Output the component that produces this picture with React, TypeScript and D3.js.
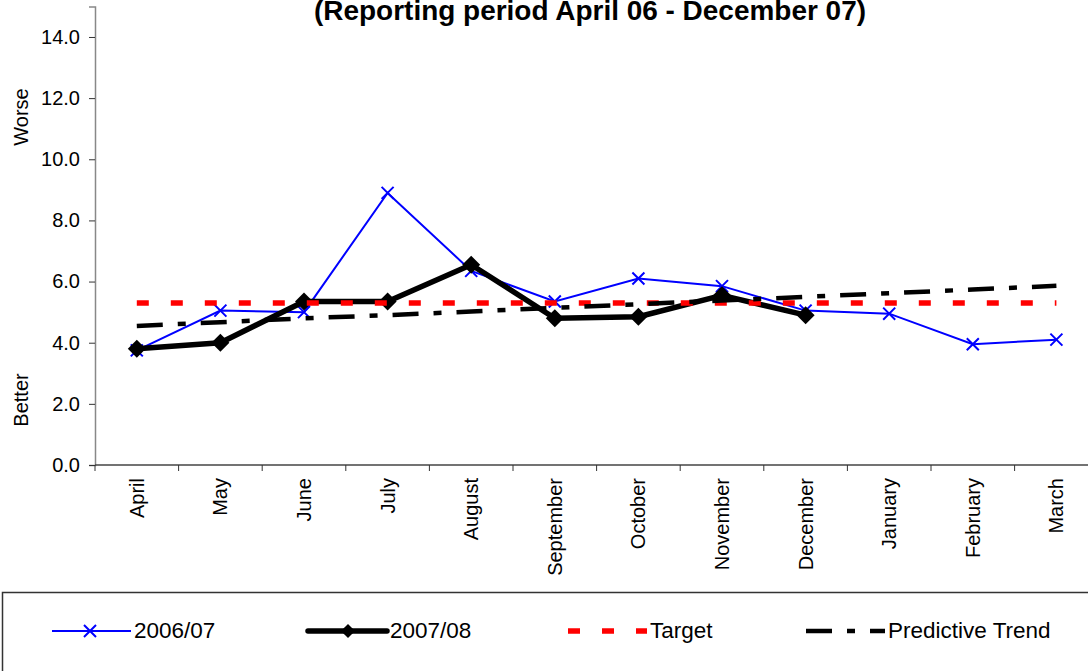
import { useEffect, useRef } from 'react';
import * as d3 from 'd3';

const MONTHS = ['April', 'May', 'June', 'July', 'August', 'September', 'October', 'November', 'December', 'January', 'February', 'March'];
const SERIES_2006_07 = [3.75, 5.05, 5.0, 8.9, 6.35, 5.35, 6.1, 5.85, 5.05, 4.95, 3.95, 4.1];
const SERIES_2007_08 = [3.8, 4.0, 5.35, 5.35, 6.55, 4.8, 4.85, 5.55, 4.9];
const TARGET = [5.3, 5.3, 5.3, 5.3, 5.3, 5.3, 5.3, 5.3, 5.3, 5.3, 5.3, 5.3];
const TREND = [4.55, 4.67, 4.8, 4.9, 5.02, 5.14, 5.26, 5.38, 5.5, 5.62, 5.74, 5.86];
const Y_TICKS = [0, 2, 4, 6, 8, 10, 12, 14];
const LEGEND_LABELS = ['2006/07', '2007/08', 'Target', 'Predictive Trend'];
const TITLE = '(Reporting period April 06 - December 07)';

const W = 1088, H = 671;
const ML = 95, PLOT_TOP = 6.4, PLOT_BOTTOM = 465, BAND = 83.6;
const LEGEND_X = [52, 308, 568, 806];
const LEGEND_Y = 631;
const FONT = '"Liberation Sans", Arial, sans-serif';

export default function App() {
  const svgRef = useRef<SVGSVGElement>(null);

  useEffect(() => {
    const svg = d3.select(svgRef.current);
    svg.selectAll('*').remove();

    const x = d3.scaleBand<string>()
      .domain(MONTHS)
      .range([ML, ML + BAND * MONTHS.length]);
    const cx = (m: string) => (x(m) as number) + x.bandwidth() / 2;

    const y = d3.scaleLinear().domain([0, 15]).range([PLOT_BOTTOM, PLOT_TOP]);

    // Title (top of it is cut off in the original too)
    svg.append('text')
      .attr('x', 590)
      .attr('y', 20)
      .attr('text-anchor', 'middle')
      .attr('font-family', FONT)
      .attr('font-size', 27)
      .attr('font-weight', 700)
      .attr('textLength', 552)
      .attr('lengthAdjust', 'spacingAndGlyphs')
      .text(TITLE);

    // Y axis
    svg.append('g')
      .attr('transform', `translate(${ML},0)`)
      .call(
        d3.axisLeft(y)
          .tickValues(Y_TICKS)
          .tickFormat(d3.format('.1f'))
          .tickSize(6)
          .tickPadding(9),
      )
      .call((gg) => {
        gg.select('.domain').attr('stroke', '#888').attr('stroke-width', 1.5);
        gg.selectAll('line').attr('stroke', '#333');
        gg.selectAll('text')
          .attr('font-size', 20)
          .attr('font-family', FONT)
          .attr('fill', '#000');
      });

    // Worse / Better
    [['Worse', 117], ['Better', 400]].forEach(([label, cy]) => {
      svg.append('text')
        .attr('transform', `translate(28,${cy}) rotate(-90)`)
        .attr('text-anchor', 'middle')
        .attr('font-family', FONT)
        .attr('font-size', 20)
        .text(label as string);
    });

    // X axis
    const xg = svg.append('g');
    xg.append('line')
      .attr('x1', ML)
      .attr('x2', ML + BAND * MONTHS.length)
      .attr('y1', PLOT_BOTTOM)
      .attr('y2', PLOT_BOTTOM)
      .attr('stroke', '#444')
      .attr('stroke-width', 1.5);
    xg.selectAll('.tick')
      .data([...MONTHS, null])
      .join('line')
      .attr('class', 'tick')
      .attr('x1', (d) => (d ? (x(d) as number) : ML + BAND * MONTHS.length))
      .attr('x2', (d) => (d ? (x(d) as number) : ML + BAND * MONTHS.length))
      .attr('y1', PLOT_BOTTOM)
      .attr('y2', PLOT_BOTTOM + 6)
      .attr('stroke', '#333');
    xg.selectAll('.xlabel')
      .data(MONTHS)
      .join('text')
      .attr('class', 'xlabel')
      .attr('transform', (d) => `translate(${cx(d)},${PLOT_BOTTOM + 13}) rotate(-90)`)
      .attr('text-anchor', 'end')
      .attr('dy', '0.35em')
      .attr('font-family', FONT)
      .attr('font-size', 20)
      .text((d) => d);

    const line = d3.line<number>()
      .x((_, i) => cx(MONTHS[i]))
      .y((d) => y(d));

    // 2006/07
    svg.append('path')
      .attr('d', line(SERIES_2006_07))
      .attr('fill', 'none')
      .attr('stroke', '#0000ff')
      .attr('stroke-width', 2);
    const xSym = d3.symbol().type(d3.symbolX).size(96);
    svg.selectAll('.m0607')
      .data(SERIES_2006_07)
      .join('path')
      .attr('class', 'm0607')
      .attr('transform', (d, i) => `translate(${cx(MONTHS[i])},${y(d)})`)
      .attr('d', xSym())
      .attr('fill', 'none')
      .attr('stroke', '#0000ff')
      .attr('stroke-width', 2);

    // 2007/08
    svg.append('path')
      .attr('d', line(SERIES_2007_08))
      .attr('fill', 'none')
      .attr('stroke', '#000')
      .attr('stroke-width', 5.5)
      .attr('stroke-linejoin', 'round');
    const dSym = d3.symbol().type(d3.symbolSquare).size(162);
    svg.selectAll('.m0708')
      .data(SERIES_2007_08)
      .join('path')
      .attr('class', 'm0708')
      .attr('transform', (d, i) => `translate(${cx(MONTHS[i])},${y(d)}) rotate(45)`)
      .attr('d', dSym())
      .attr('fill', '#000');

    // Target
    svg.append('path')
      .attr('d', line(TARGET))
      .attr('fill', 'none')
      .attr('stroke', '#ff0000')
      .attr('stroke-width', 5.5)
      .attr('stroke-dasharray', '12,22');

    // Predictive trend
    svg.append('path')
      .attr('d', line(TREND))
      .attr('fill', 'none')
      .attr('stroke', '#000')
      .attr('stroke-width', 4.5)
      .attr('stroke-dasharray', '26,15,8,15');

    // Legend
    const lg = svg.append('g');
    lg.append('rect')
      .attr('x', 2.5)
      .attr('y', 592.5)
      .attr('width', 1100)
      .attr('height', 100)
      .attr('fill', 'none')
      .attr('stroke', '#333')
      .attr('stroke-width', 1.5);

    const styles = [
      { stroke: '#0000ff', width: 2, dash: null },
      { stroke: '#000', width: 5.5, dash: null },
      { stroke: '#ff0000', width: 5.5, dash: '12,22' },
      { stroke: '#000', width: 4.5, dash: '26,15,8,15' },
    ];
    LEGEND_LABELS.forEach((label, i) => {
      const x0 = LEGEND_X[i];
      const s = styles[i];
      lg.append('line')
        .attr('x1', x0)
        .attr('x2', x0 + 79)
        .attr('y1', LEGEND_Y)
        .attr('y2', LEGEND_Y)
        .attr('stroke', s.stroke)
        .attr('stroke-width', s.width)
        .attr('stroke-linecap', i === 1 ? 'round' : 'butt')
        .attr('stroke-dasharray', s.dash);
      if (i === 0) {
        lg.append('path')
          .attr('transform', `translate(${x0 + 38},${LEGEND_Y})`)
          .attr('d', xSym())
          .attr('fill', 'none')
          .attr('stroke', '#0000ff')
          .attr('stroke-width', 2);
      }
      if (i === 1) {
        lg.append('path')
          .attr('transform', `translate(${x0 + 40},${LEGEND_Y}) rotate(45)`)
          .attr('d', d3.symbol().type(d3.symbolSquare).size(100)())
          .attr('fill', '#000');
      }
      lg.append('text')
        .attr('x', x0 + 82)
        .attr('y', LEGEND_Y - 1)
        .attr('dy', '0.35em')
        .attr('font-family', FONT)
        .attr('font-size', 22.5)
        .text(label);
    });
  }, []);

  return (
    <svg
      ref={svgRef}
      width={W}
      height={H}
      viewBox={`0 0 ${W} ${H}`}
      style={{ position: 'absolute', left: 0, top: 0, background: '#fff' }}
    />
  );
}
